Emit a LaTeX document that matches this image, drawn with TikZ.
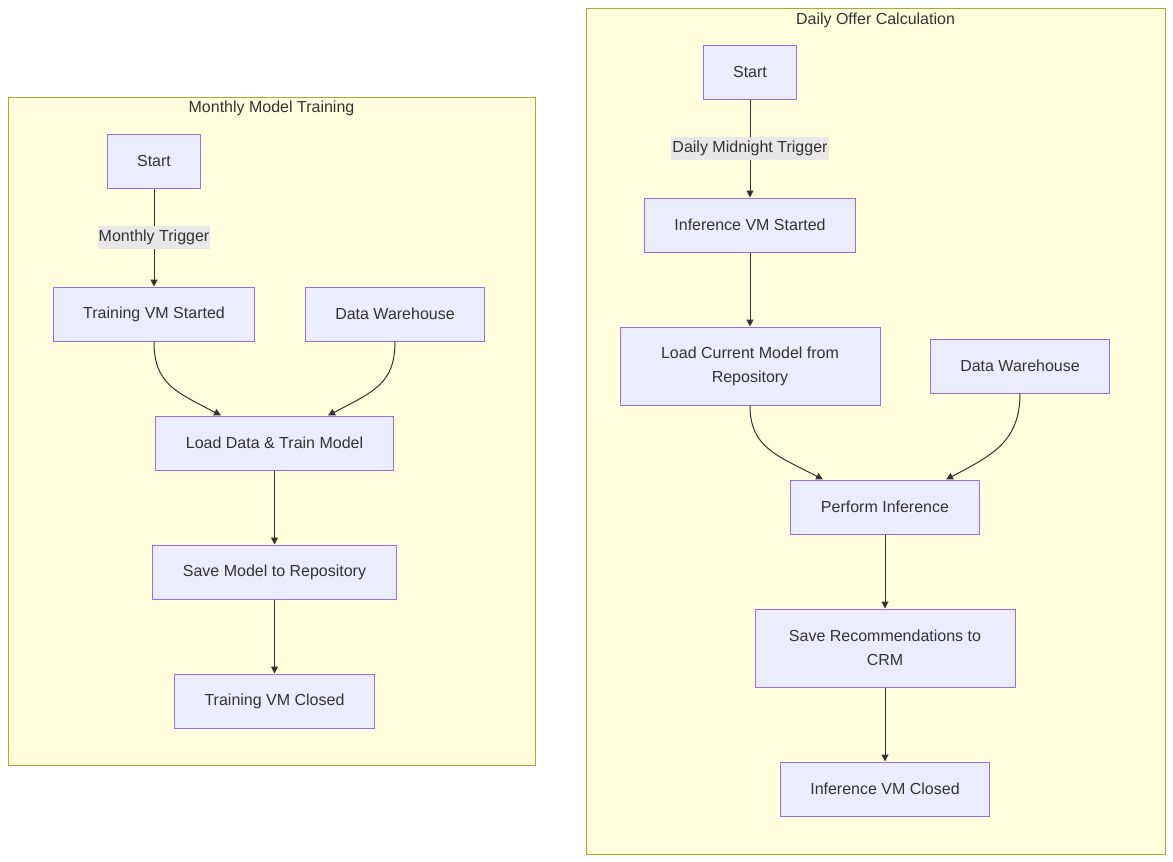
\documentclass[tikz,border=0pt]{standalone}
\usepackage{fontspec}
\setmainfont{Liberation Sans}
\usetikzlibrary{positioning,arrows.meta}
\definecolor{nodefill}{HTML}{ECECFF}
\definecolor{nodeline}{HTML}{9370DB}
\definecolor{clusterfill}{HTML}{FFFFDE}
\definecolor{clusterline}{HTML}{AAAA33}
\definecolor{edgecol}{HTML}{333333}
\definecolor{labelfill}{HTML}{E8E8E8}
\tikzset{
  box/.style={draw=nodeline, fill=nodefill, line width=1pt, minimum height=54pt, inner xsep=30pt, inner ysep=0pt, text=edgecol, font=\fontsize{16}{24}\selectfont},
  boxtwo/.style={box, minimum height=78pt, minimum width=260pt, align=center},
  cluster/.style={draw=clusterline, fill=clusterfill, line width=1pt},
  flow/.style={draw=edgecol, line width=1pt, -{Triangle[length=7pt,width=7pt]}},
  edgelabel/.style={fill=labelfill, text=edgecol, inner xsep=1pt, inner ysep=0pt, minimum height=23pt, font=\fontsize{16}{24}\selectfont},
  clustertitle/.style={text=edgecol, font=\fontsize{16}{24}\selectfont}
}
\begin{document}
\begin{tikzpicture}[x=1pt,y=-1pt]
            \useasboundingbox (0,0) rectangle (1173,862);
            % monthly training
            \path[cluster] (8,97) rectangle (535,765);
            \node[clustertitle] (mtitle) at (271.5,108) {Monthly Model Training};
            \node[box] (mstart) at (154,161) {Start};
            \node[box] (trainvm) at (154,314) {Training VM Started};
            \node[box] (mdw) at (395,314) {Data Warehouse};
            \node[box] (train) at (274.5,443) {Load Data \& Train Model};
            \node[box] (savemodel) at (274.5,572) {Save Model to Repository};
            \node[box] (trainclosed) at (274.5,701) {Training VM Closed};
            \draw[flow] (mstart) -- node[edgelabel] {Monthly Trigger} (trainvm);
            \draw[flow] (trainvm.south) .. controls +(0,42) and +(-46,-24) .. ([xshift=-53.5pt]train.north);
            \draw[flow] (mdw.south) .. controls +(0,42) and +(46,-24) .. ([xshift=53.5pt]train.north);
            \draw[flow] (train) -- (savemodel);
            \draw[flow] (savemodel) -- (trainclosed);
            % daily offers
            \path[cluster] (586,8) rectangle (1165,854);
            \node[clustertitle] (dtitle) at (875.5,20) {Daily Offer Calculation};
            \node[box] (dstart) at (750,72) {Start};
            \node[box] (infvm) at (750,225) {Inference VM Started};
            \node[boxtwo] (loadmodel) at (750,366) {Load Current Model from\\Repository};
            \node[box] (ddw) at (1020,366) {Data Warehouse};
            \node[box] (infer) at (885,507) {Perform Inference};
            \node[boxtwo] (saverec) at (885,648) {Save Recommendations to\\CRM};
            \node[box] (infclosed) at (885,789) {Inference VM Closed};
            \draw[flow] (dstart) -- node[edgelabel] {Daily Midnight Trigger} (infvm);
            \draw[flow] (infvm) -- (loadmodel);
            \draw[flow] (loadmodel.south) .. controls +(0,42) and +(-46,-24) .. ([xshift=-62pt]infer.north);
            \draw[flow] (ddw.south) .. controls +(0,48) and +(46,-24) .. ([xshift=61pt]infer.north);
            \draw[flow] (infer) -- (saverec);
            \draw[flow] (saverec) -- (infclosed);
        \end{tikzpicture}
\end{document}
